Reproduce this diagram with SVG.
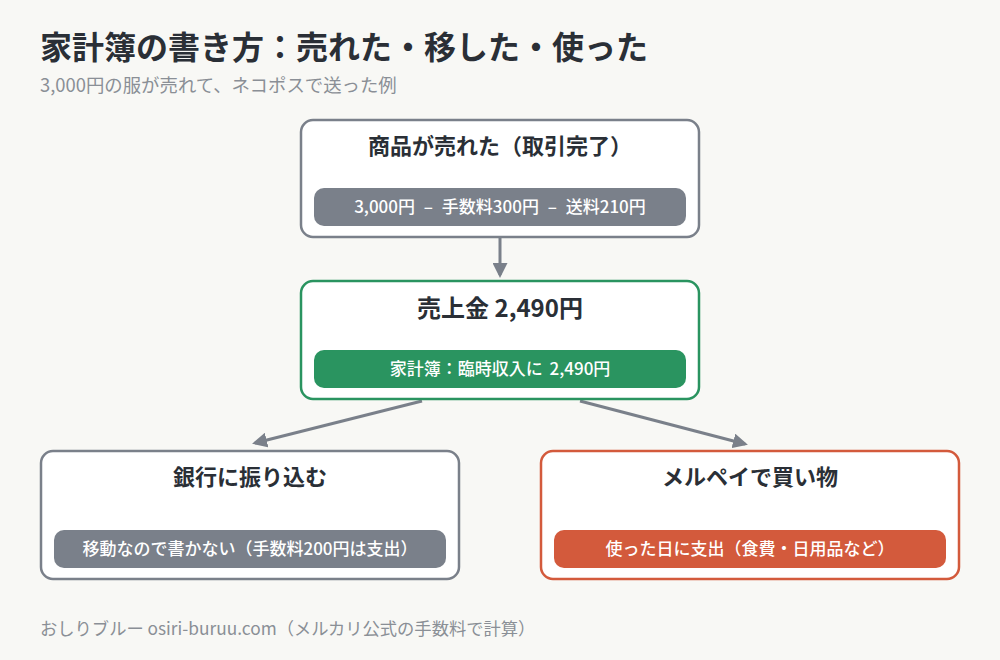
<svg xmlns="http://www.w3.org/2000/svg" width="1000" height="660" viewBox="0 0 1000 660">
<style>
text{font-family:"Noto Sans CJK JP","Noto Sans",sans-serif}
.title{font-size:32px;font-weight:700;fill:#2a2f36}
.sub{font-size:18.4px;fill:#8a8f96}
.foot{font-size:17.3px;fill:#8a8f96}
.nt{font-size:22px;font-weight:700;fill:#2a2f36;text-anchor:middle}
.pt{font-size:17px;font-weight:500;fill:#ffffff;text-anchor:middle}
.box{fill:#ffffff;stroke-width:2.5}
.conn{stroke:#7a808a;stroke-width:3;fill:none}
</style>
<defs>
<marker id="ah" viewBox="0 0 10 10" refX="8" refY="5" markerWidth="5" markerHeight="5" orient="auto" markerUnits="strokeWidth">
<path d="M0,0 L10,5 L0,10 z" fill="#7a808a"/>
</marker>
</defs>
<rect width="1000" height="660" fill="#f8f8f5"/>
<text class="title" x="40" y="59">家計簿の書き方：売れた・移した・使った</text>
<text class="sub" x="40" y="92">3,000円の服が売れて、ネコポスで送った例</text>
<g id="connectors">
<line class="conn" x1="500" y1="238" x2="500" y2="275" marker-end="url(#ah)"/>
<line class="conn" x1="422" y1="401" x2="255" y2="443" marker-end="url(#ah)"/>
<line class="conn" x1="580" y1="401" x2="745" y2="444" marker-end="url(#ah)"/>
</g>
<g id="sold">
<rect class="box" x="301" y="120" width="398" height="117" rx="12" stroke="#7a808a"/>
<text class="nt" x="500" y="154">商品が売れた（取引完了）</text>
<rect x="314" y="188" width="372" height="38" rx="10" fill="#7a808a"/>
<text class="pt" x="500" y="213" word-spacing="5">3,000円 – 手数料300円 – 送料210円</text>
</g>
<g id="sales">
<rect class="box" x="301" y="281" width="398" height="118" rx="12" stroke="#2a9460"/>
<text class="nt" x="500" y="317" style="font-size:24px;font-weight:600">売上金 2,490円</text>
<rect x="314" y="350" width="372" height="38" rx="10" fill="#2a9460"/>
<text class="pt" x="500" y="375" word-spacing="3">家計簿：臨時収入に 2,490円</text>
</g>
<g id="bank">
<rect class="box" x="41" y="451" width="418" height="128" rx="12" stroke="#7a808a"/>
<text class="nt" x="250" y="485">銀行に振り込む</text>
<rect x="54" y="530" width="392" height="38" rx="10" fill="#7a808a"/>
<text class="pt" x="250" y="555">移動なので書かない（手数料200円は支出）</text>
</g>
<g id="merpay">
<rect class="box" x="541" y="451" width="418" height="128" rx="12" stroke="#d35a3c"/>
<text class="nt" x="750" y="485">メルペイで買い物</text>
<rect x="554" y="530" width="392" height="38" rx="10" fill="#d35a3c"/>
<text class="pt" x="750" y="555">使った日に支出（食費・日用品など）</text>
</g>
<text class="foot" x="40" y="635">おしりブルー osiri-buruu.com（メルカリ公式の手数料で計算）</text>
</svg>
